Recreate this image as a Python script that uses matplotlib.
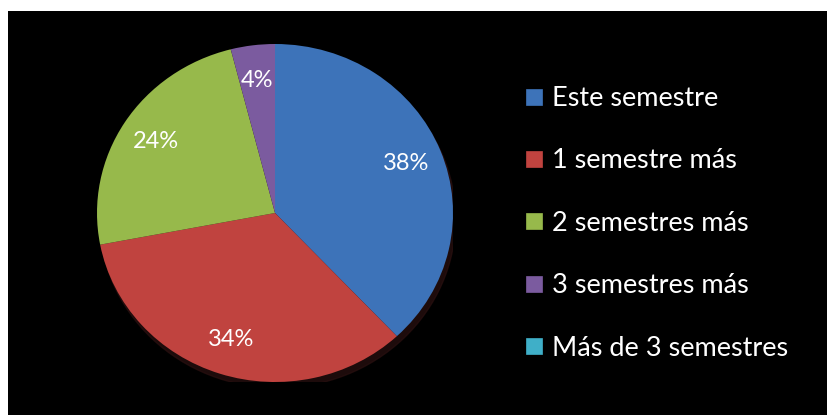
import matplotlib
matplotlib.use("Agg")
import matplotlib.pyplot as plt
from matplotlib.lines import Line2D
from matplotlib.patches import Ellipse

categories = ["Este semestre", "1 semestre más", "2 semestres más", "3 semestres más", "Más de 3 semestres"]
values = [38, 34, 24, 4, 0]
colors = ["#3D73B9", "#C0433F", "#97B94B", "#7B5B9F", "#3FAFC8"]

W, H = 827, 415
fig = plt.figure(figsize=(W / 100, H / 100), dpi=100, facecolor="white")

# black chart area
bg = fig.add_axes([8 / W, 0, 1 - 8 / W, (H - 11) / H])
bg.set_facecolor("black")
bg.set_xticks([]); bg.set_yticks([])
for s in bg.spines.values():
    s.set_visible(False)

cx, cy = 275, H - 213
rx, ry = 178, 169
ax = fig.add_axes([(cx - rx) / W, (cy - ry) / H, 2 * rx / W, 2 * ry / H])
ax.set_facecolor("none")

# subtle shadow
ax.add_patch(Ellipse((0.015, -0.035), 2.0, 2.0, color="#2a1010", alpha=0.7, zorder=0))

def fmt(p):
    return f"{p:.0f}%" if p >= 0.5 else ""

wedges, texts, autotexts = ax.pie(
    values, colors=colors, startangle=90, counterclock=False,
    autopct=fmt, pctdistance=0.79, radius=1.0,
    wedgeprops=dict(linewidth=0),
    textprops=dict(color="white", fontsize=17, family="Lato"),
)
ax.set_aspect("auto")
ax.set_xlim(-1, 1)
ax.set_ylim(-1, 1)
ax.axis("off")

handles = [Line2D([0], [0], marker="s", linestyle="none", markersize=11,
                  markerfacecolor=c, markeredgecolor=c, markeredgewidth=0.5)
           for c in colors]
leg = fig.legend(handles, categories, loc="upper left",
                 bbox_to_anchor=(525 / W, 1 - 86 / H), frameon=False,
                 labelcolor="white", prop=dict(family="Lato", size=19.5),
                 handlelength=0.7, handletextpad=0.3, labelspacing=1.38,
                 borderpad=0, borderaxespad=0)

fig.savefig("out.png", dpi=100, facecolor="white")
